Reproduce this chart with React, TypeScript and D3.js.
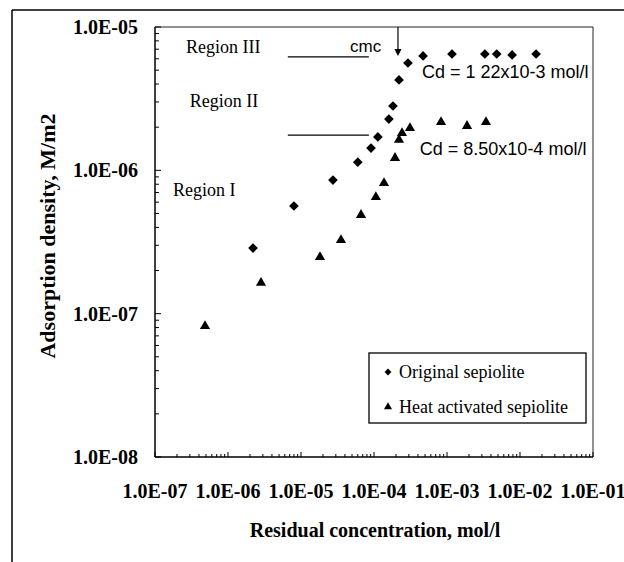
import React from 'react';
import * as d3 from 'd3';

// ---- data ----
const originalX = [2.2e-6, 8.0e-6, 2.74e-5, 6.0e-5, 9.1e-5, 1.13e-4, 1.6e-4, 1.82e-4, 2.2e-4, 2.92e-4, 4.7e-4, 1.17e-3, 3.3e-3, 4.8e-3, 7.8e-3, 1.66e-2];
const originalY = [2.87e-7, 5.64e-7, 8.55e-7, 1.14e-6, 1.43e-6, 1.71e-6, 2.28e-6, 2.81e-6, 4.27e-6, 5.61e-6, 6.28e-6, 6.48e-6, 6.48e-6, 6.48e-6, 6.38e-6, 6.48e-6];
const heatX = [4.84e-7, 2.83e-6, 1.82e-5, 3.53e-5, 6.64e-5, 1.06e-4, 1.37e-4, 1.94e-4, 2.2e-4, 2.42e-4, 3.11e-4, 8.28e-4, 1.88e-3, 3.42e-3];
const heatY = [8.19e-8, 1.64e-7, 2.48e-7, 3.26e-7, 4.88e-7, 6.51e-7, 8.15e-7, 1.22e-6, 1.63e-6, 1.82e-6, 1.97e-6, 2.17e-6, 2.04e-6, 2.17e-6];

const xTickValues = [1e-7, 1e-6, 1e-5, 1e-4, 1e-3, 1e-2, 1e-1];
const xTickLabels = ['1.0E-07', '1.0E-06', '1.0E-05', '1.0E-04', '1.0E-03', '1.0E-02', '1.0E-01'];
const yTickValues = [1e-8, 1e-7, 1e-6, 1e-5];
const yTickLabels = ['1.0E-08', '1.0E-07', '1.0E-06', '1.0E-05'];

const seriesNames = ['Original sepiolite', 'Heat activated sepiolite'];

// annotations in data units
const regionLabels = [
  { text: 'Region III', x: 2.66e-7, y: 7.25e-6 },
  { text: 'Region II', x: 3.0e-7, y: 3.05e-6 },
  { text: 'Region I', x: 1.77e-7, y: 7.3e-7 },
];
const regionLines = [
  { x1: 6.6e-6, x2: 8.5e-5, y: 6.18e-6 },
  { x1: 6.6e-6, x2: 8.5e-5, y: 1.76e-6 },
];
const cmcLabel = { text: 'cmc', x: 4.69e-5, y: 7.37e-6 };
const cmcArrow = { x: 2.13e-4, y1: 1e-5, y2: 6.28e-6 };
const cdLabels = [
  { text: 'Cd = 1 22x10-3 mol/l', x: 4.55e-4, y: 4.85e-6 },
  { text: 'Cd = 8.50x10-4 mol/l', x: 4.24e-4, y: 1.41e-6 },
];

const W = 624;
const H = 562;
const L = 155, R = 593, T = 27, B = 457;

const serif = '"Liberation Serif", "Times New Roman", serif';
const sans = '"Liberation Sans", Arial, sans-serif';

export default function App() {
  const x = d3.scaleLog().domain([1e-7, 1e-1]).range([L, R]);
  const y = d3.scaleLog().domain([1e-8, 1e-5]).range([B, T]);

  const diamond = d3.symbol(d3.symbolDiamond2, 60)() as string;
  const triangle = d3.symbol(d3.symbolTriangle, 45)() as string;
  const diamondSmall = d3.symbol(d3.symbolDiamond2, 30)() as string;
  const triangleSmall = d3.symbol(d3.symbolTriangle, 28)() as string;

  const minorX: number[] = [];
  for (let e = -7; e < -1; e++) for (let k = 2; k <= 9; k++) minorX.push(k * Math.pow(10, e));
  const minorY: number[] = [];
  for (let e = -8; e < -5; e++) for (let k = 2; k <= 9; k++) minorY.push(k * Math.pow(10, e));

  return (
    <svg width={W} height={H} style={{ position: 'absolute', left: 0, top: 0, background: '#fff' }}>
      <rect x={0} y={0} width={W} height={H} fill="#fff" />
      {/* outer frame */}
      <line x1={12} y1={10} x2={W} y2={10} stroke="#000" strokeWidth={1.5} />
      <line x1={12} y1={10} x2={12} y2={H} stroke="#000" strokeWidth={1.5} />

      {/* plot frame */}
      <line x1={L} y1={T} x2={R} y2={T} stroke="#222" strokeWidth={1} />
      <line x1={R} y1={T} x2={R} y2={B} stroke="#222" strokeWidth={1} />
      <line x1={L} y1={T} x2={L} y2={B} stroke="#000" strokeWidth={1.5} />
      <line x1={L} y1={B} x2={R} y2={B} stroke="#000" strokeWidth={1.5} />

      {/* y ticks */}
      {yTickValues.map((v) => (
        <line key={'ym' + v} x1={L} x2={L + 6} y1={y(v)} y2={y(v)} stroke="#000" strokeWidth={1} />
      ))}
      {minorY.map((v) => (
        <line key={'yn' + v} x1={L} x2={L + 4} y1={y(v)} y2={y(v)} stroke="#000" strokeWidth={1} />
      ))}
      {yTickValues.map((v, i) => (
        <text key={'yl' + v} x={138} y={y(v)} dy="0.35em" textAnchor="end" fontFamily={serif} fontWeight="bold" fontSize={20}>
          {yTickLabels[i]}
        </text>
      ))}

      {/* x ticks */}
      {xTickValues.map((v) => (
        <line key={'xm' + v} x1={x(v)} x2={x(v)} y1={B} y2={B - 5} stroke="#000" strokeWidth={1} />
      ))}
      {minorX.map((v) => (
        <line key={'xn' + v} x1={x(v)} x2={x(v)} y1={B} y2={B - 3} stroke="#000" strokeWidth={1} />
      ))}
      {xTickValues.map((v, i) => (
        <text key={'xl' + v} x={x(v)} y={491} dy="0.35em" textAnchor="middle" fontFamily={serif} fontWeight="bold" fontSize={20}>
          {xTickLabels[i]}
        </text>
      ))}

      {/* axis titles */}
      <text x={375} y={530} dy="0.35em" textAnchor="middle" fontFamily={serif} fontWeight="bold" fontSize={20}>
        Residual concentration, mol/l
      </text>
      <text transform="translate(47,236) rotate(-90)" dy="0.35em" textAnchor="middle" fontFamily={serif} fontWeight="bold" fontSize={22}>
        Adsorption density, M/m2
      </text>

      {/* annotations */}
      {regionLabels.map((r) => (
        <text key={r.text} x={x(r.x)} y={y(r.y)} dy="0.35em" fontFamily={serif} fontSize={18}>
          {r.text}
        </text>
      ))}
      {regionLines.map((l, i) => (
        <line key={'rl' + i} x1={x(l.x1)} x2={x(l.x2)} y1={y(l.y)} y2={y(l.y)} stroke="#000" strokeWidth={1.3} />
      ))}
      <text x={x(cmcLabel.x)} y={y(cmcLabel.y)} dy="0.35em" fontFamily={sans} fontSize={17}>
        {cmcLabel.text}
      </text>
      <line x1={x(cmcArrow.x)} x2={x(cmcArrow.x)} y1={y(cmcArrow.y1)} y2={y(cmcArrow.y2) - 6} stroke="#000" strokeWidth={1.2} />
      <path
        d={`M${x(cmcArrow.x) - 3.5},${y(cmcArrow.y2) - 7} L${x(cmcArrow.x) + 3.5},${y(cmcArrow.y2) - 7} L${x(cmcArrow.x)},${y(cmcArrow.y2)} Z`}
        fill="#000"
      />
      {cdLabels.map((c) => (
        <text key={c.text} x={x(c.x)} y={y(c.y)} dy="0.35em" fontFamily={sans} fontSize={18}>
          {c.text}
        </text>
      ))}

      {/* data */}
      {originalX.map((v, i) => (
        <path key={'o' + i} d={diamond} transform={`translate(${x(v)},${y(originalY[i])})`} fill="#000" />
      ))}
      {heatX.map((v, i) => (
        <path key={'h' + i} d={triangle} transform={`translate(${x(v)},${y(heatY[i])})`} fill="#000" />
      ))}

      {/* legend */}
      <g>
        <rect x={369} y={353} width={217} height={70} fill="#fff" stroke="#000" strokeWidth={1.3} />
        <path d={diamondSmall} transform="translate(388,372)" fill="#000" />
        <text x={399} y={372} dy="0.35em" fontFamily={serif} fontSize={18}>
          {seriesNames[0]}
        </text>
        <path d={triangleSmall} transform="translate(388,407)" fill="#000" />
        <text x={399} y={407} dy="0.35em" fontFamily={serif} fontSize={18}>
          {seriesNames[1]}
        </text>
      </g>
    </svg>
  );
}
